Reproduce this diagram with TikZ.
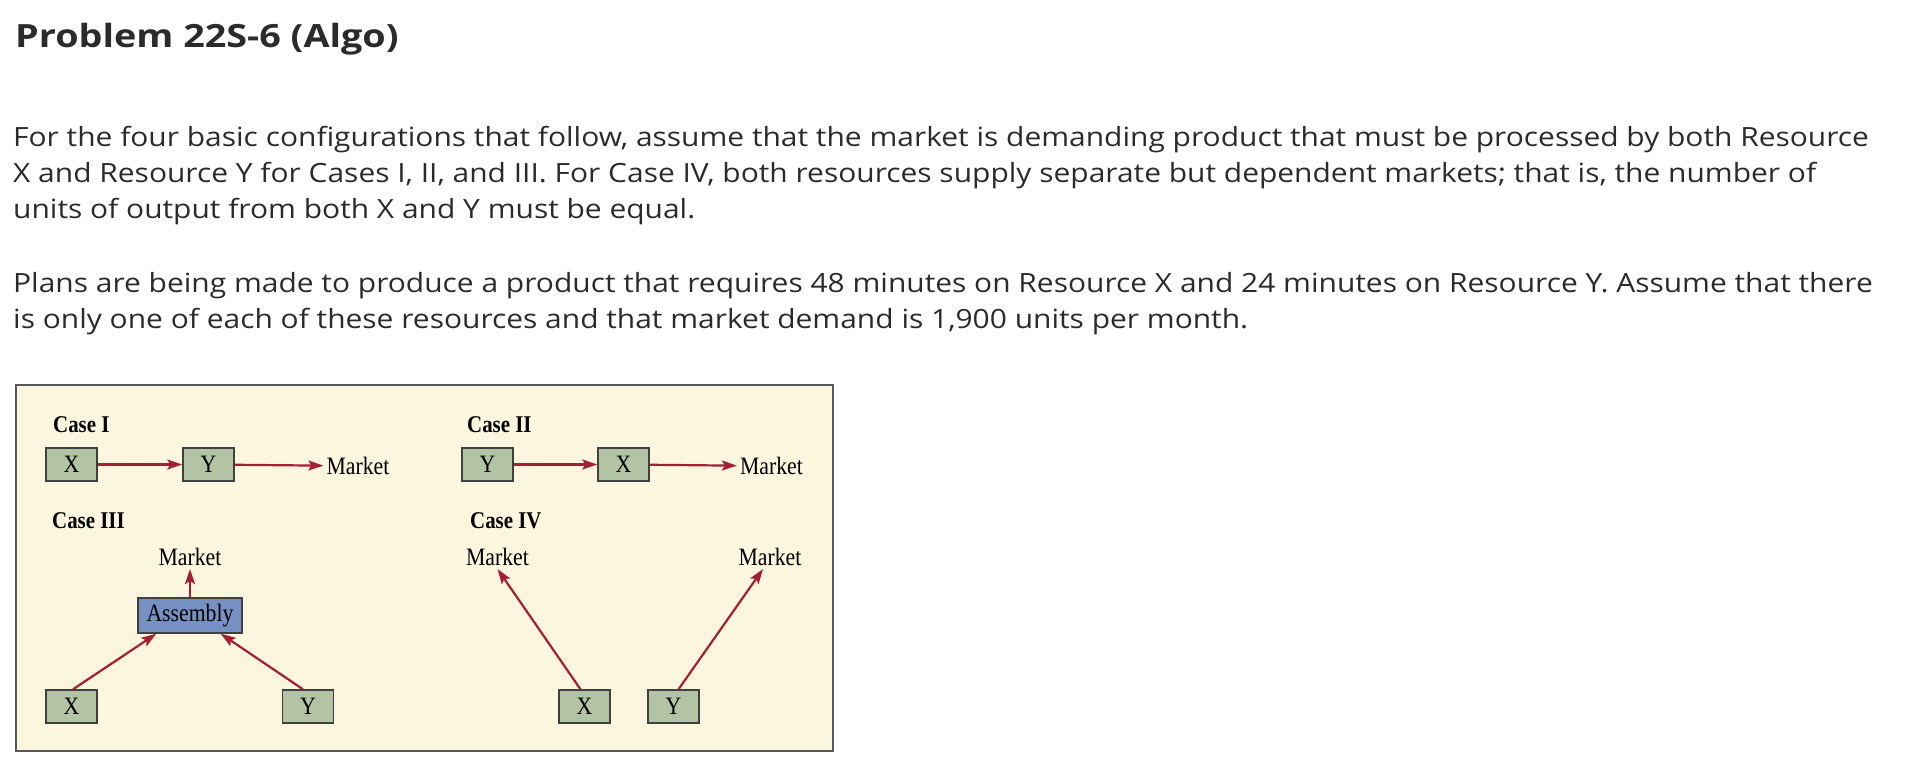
\documentclass[tikz,border=0pt]{standalone}
\usepackage{fontspec}
\setmainfont[FakeStretch=1.13]{Open Sans}
\newfontfamily\titlefont[FakeStretch=1.18]{Open Sans}
\newfontfamily\figfont[FakeStretch=0.87]{Liberation Serif}
\usetikzlibrary{arrows.meta}

\definecolor{cream}{HTML}{FDF6DE}
\definecolor{sage}{HTML}{B3C4A4}
\definecolor{asmblue}{HTML}{7690C4}
\definecolor{flowred}{HTML}{A31F34}
\definecolor{inkgray}{HTML}{2B2B2B}

\tikzset{
  bodyline/.style={anchor=base west, inner sep=0pt, text=inkgray,
    font=\fontsize{26.5}{36}\selectfont},
  resbox/.style={draw=black!75, fill=sage, line width=1.4pt,
    minimum width=51pt, minimum height=33pt, inner sep=0pt,
    font=\figfont\fontsize{25}{25}\selectfont},
  caselabel/.style={anchor=base west, inner sep=0pt,
    font=\figfont\bfseries\fontsize{24}{24}\selectfont},
  marketlabel/.style={inner sep=3pt, font=\figfont\fontsize{25}{25}\selectfont},
  flow/.style={draw=flowred, line width=2.2pt, -{Stealth[length=15pt,width=10pt,inset=3pt]}}
}

\begin{document}
\begin{tikzpicture}[x=1pt, y=-1pt]
  \useasboundingbox (0,0) rectangle (1912,762);

  % heading and problem text
  \node[anchor=base west, inner sep=0pt, text=inkgray,
    font=\titlefont\bfseries\fontsize{32}{32}\selectfont] (title) at (15,48) {Problem 22S-6 (Algo)};
  \node[bodyline] (l1) at (13,147) {For the four basic configurations that follow, assume that the market is demanding product that must be processed by both Resource};
  \node[bodyline] (l2) at (13,183) {X and Resource Y for Cases I, II, and III. For Case IV, both resources supply separate but dependent markets; that is, the number of};
  \node[bodyline] (l3) at (13,219) {units of output from both X and Y must be equal.};
  \node[bodyline] (l4) at (13,292) {Plans are being made to produce a product that requires 48 minutes on Resource X and 24 minutes on Resource Y. Assume that there};
  \node[bodyline] (l5) at (13,328) {is only one of each of these resources and that market demand is 1,900 units per month.};

  % figure frame
  \draw[draw=black!65, fill=cream, line width=2pt] (16,385) rectangle (833,751);

  % Case I
  \node[caselabel] (c1) at (53,432) {Case I};
  \node[resbox] (x1) at (71.5,464.5) {X};
  \node[resbox] (y1) at (208.5,464.5) {Y};
  \node[marketlabel] (m1) at (358,466) {Market};
  \draw[flow] (x1) -- (y1);
  \draw[flow] (y1) -- (m1);

  % Case II
  \node[caselabel] (c2) at (467,432) {Case II};
  \node[resbox] (y2) at (487.5,464.5) {Y};
  \node[resbox] (x2) at (623.5,464.5) {X};
  \node[marketlabel] (m2) at (771.5,466) {Market};
  \draw[flow] (y2) -- (x2);
  \draw[flow] (x2) -- (m2);

  % Case III
  \node[caselabel] (c3) at (52,528) {Case III};
  \node[marketlabel] (m3) at (190,557) {Market};
  \node[resbox, fill=asmblue, minimum width=104pt, minimum height=35pt] (asm) at (190,615.5) {Assembly};
  \node[resbox] (x3) at (71.5,706.5) {X};
  \node[resbox] (y3) at (308,706.5) {Y};
  \draw[flow] (asm) -- (m3);
  \draw[flow] ([xshift=1.5pt]x3.north) -- ([xshift=19pt]asm.south west);
  \draw[flow] ([xshift=-5pt]y3.north) -- ([xshift=-22pt]asm.south east);

  % Case IV
  \node[caselabel] (c4) at (470,528) {Case IV};
  \node[marketlabel] (m4) at (497.5,557) {Market};
  \node[marketlabel] (m5) at (770,557) {Market};
  \node[resbox] (x4) at (584.5,706.5) {X};
  \node[resbox] (y4) at (673.5,706.5) {Y};
  \draw[flow] ([xshift=-4pt]x4.north) -- (m4.south);
  \draw[flow] ([xshift=5pt]y4.north) -- ([xshift=-7pt]m5.south);
\end{tikzpicture}
\end{document}
